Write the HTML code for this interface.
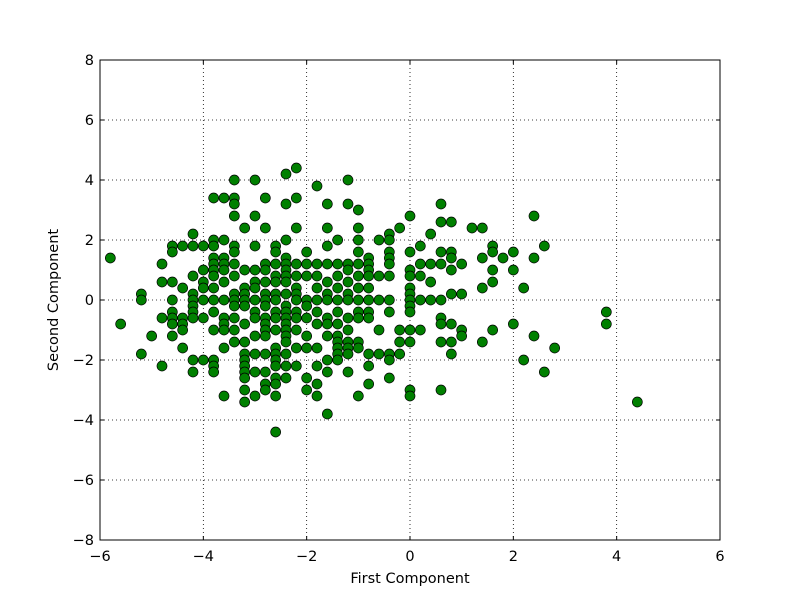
<!DOCTYPE html>
<html><head><meta charset="utf-8"><style>
html,body{margin:0;padding:0;background:#fff;}
svg text{font-family:"DejaVu Sans","Liberation Sans",sans-serif;}
</style></head><body>
<svg id="chart" width="800" height="600" xmlns="http://www.w3.org/2000/svg">
<rect width="800" height="600" fill="#fff"/>
<g id="grid"></g><g id="points"></g>
<rect x="100" y="60" width="620" height="480" fill="none" stroke="#000" stroke-width="1"/>
<g id="ticks"></g>
<text x="410" y="583" font-size="14.5" text-anchor="middle">First Component</text>
<text transform="translate(58,300) rotate(-90)" font-size="14.5" text-anchor="middle">Second Component</text>
</svg>
<script>
const xTicks=[-6,-4,-2,0,2,4,6];
const yTicks=[-8,-6,-4,-2,0,2,4,6,8];
const xs=[-5.8,-5.6,-5.2,-5.2,-5.2,-5.0,-4.8,-4.8,-4.8,-4.8,-4.6,-4.6,-4.6,-4.6,-4.6,-4.6,-4.6,-4.6,-4.4,-4.4,-4.4,-4.4,-4.4,-4.4,-4.2,-4.2,-4.2,-4.2,-4.2,-4.2,-4.2,-4.2,-4.2,-4.2,-4.0,-4.0,-4.0,-4.0,-4.0,-4.0,-4.0,-3.8,-3.8,-3.8,-3.8,-3.8,-3.8,-3.8,-3.8,-3.8,-3.8,-3.8,-3.8,-3.8,-3.8,-3.6,-3.6,-3.6,-3.6,-3.6,-3.6,-3.6,-3.6,-3.6,-3.6,-3.6,-3.6,-3.4,-3.4,-3.4,-3.4,-3.4,-3.4,-3.4,-3.4,-3.4,-3.4,-3.4,-3.4,-3.4,-3.4,-3.2,-3.2,-3.2,-3.2,-3.2,-3.2,-3.2,-3.2,-3.2,-3.2,-3.2,-3.2,-3.2,-3.2,-3.2,-3.0,-3.0,-3.0,-3.0,-3.0,-3.0,-3.0,-3.0,-3.0,-3.0,-3.0,-3.0,-3.0,-2.8,-2.8,-2.8,-2.8,-2.8,-2.8,-2.8,-2.8,-2.8,-2.8,-2.8,-2.8,-2.8,-2.8,-2.8,-2.8,-2.6,-2.6,-2.6,-2.6,-2.6,-2.6,-2.6,-2.6,-2.6,-2.6,-2.6,-2.6,-2.6,-2.6,-2.6,-2.6,-2.6,-2.6,-2.4,-2.4,-2.4,-2.4,-2.4,-2.4,-2.4,-2.4,-2.4,-2.4,-2.4,-2.4,-2.4,-2.4,-2.4,-2.4,-2.4,-2.4,-2.4,-2.2,-2.2,-2.2,-2.2,-2.2,-2.2,-2.2,-2.2,-2.2,-2.2,-2.2,-2.2,-2.2,-2.0,-2.0,-2.0,-2.0,-2.0,-2.0,-2.0,-2.0,-2.0,-2.0,-1.8,-1.8,-1.8,-1.8,-1.8,-1.8,-1.8,-1.8,-1.8,-1.8,-1.8,-1.6,-1.6,-1.6,-1.6,-1.6,-1.6,-1.6,-1.6,-1.6,-1.6,-1.6,-1.6,-1.6,-1.4,-1.4,-1.4,-1.4,-1.4,-1.4,-1.4,-1.4,-1.4,-1.4,-1.4,-1.4,-1.2,-1.2,-1.2,-1.2,-1.2,-1.2,-1.2,-1.2,-1.2,-1.2,-1.2,-1.2,-1.2,-1.0,-1.0,-1.0,-1.0,-1.0,-1.0,-1.0,-1.0,-1.0,-1.0,-1.0,-1.0,-1.0,-0.8,-0.8,-0.8,-0.8,-0.8,-0.8,-0.8,-0.8,-0.8,-0.8,-0.8,-0.6,-0.6,-0.6,-0.6,-0.6,-0.4,-0.4,-0.4,-0.4,-0.4,-0.4,-0.4,-0.4,-0.4,-0.4,-0.4,-0.2,-0.2,-0.2,-0.2,0,0,0,0,0,0,0,0,0,0,0,0,0,0.2,0.2,0.2,0.2,0.2,0.4,0.4,0.4,0.4,0.6,0.6,0.6,0.6,0.6,0.6,0.6,0.6,0.6,0.8,0.8,0.8,0.8,0.8,0.8,0.8,0.8,1.0,1.0,1.0,1.0,1.2,1.4,1.4,1.4,1.4,1.6,1.6,1.6,1.6,1.6,1.8,2.0,2.0,2.0,2.2,2.2,2.4,2.4,2.4,2.6,2.6,2.8,3.8,3.8,4.4];
const ys=[1.4,-0.8,0.2,0,-1.8,-1.2,1.2,0.6,-0.6,-2.2,1.8,1.6,0.6,0,-0.4,-0.6,-0.8,-1.2,1.8,0.4,-0.6,-0.8,-1.0,-1.6,2.2,1.8,0.8,0.2,0,-0.2,-0.4,-0.6,-2.0,-2.4,1.8,1.0,0.6,0.4,0,-0.6,-2.0,3.4,2.0,1.8,1.4,1.2,1.0,0.8,0.4,0,-0.4,-1.0,-2.0,-2.2,-2.4,3.4,2.0,1.4,1.2,1.0,0.6,0,-0.6,-0.8,-1.0,-1.6,-3.2,4.0,3.4,3.2,2.8,1.8,1.6,1.2,0.8,0.2,0,-0.2,-0.6,-1.0,-1.4,2.4,1.0,0.4,0.2,0,-0.2,-0.8,-1.4,-1.8,-2.0,-2.2,-2.4,-2.6,-3.0,-3.4,4.0,2.8,1.8,1.0,0.6,0.4,0,-0.4,-0.6,-1.2,-1.8,-2.4,-3.2,3.4,2.4,1.2,1.0,0.6,0.2,0,-0.2,-0.6,-0.8,-1.0,-1.2,-1.8,-2.4,-2.8,-3.0,1.8,1.6,1.2,0.8,0.6,0.2,0,-0.4,-0.6,-1.0,-1.6,-1.8,-2.0,-2.2,-2.6,-2.8,-3.2,-4.4,4.2,3.2,2.0,1.4,1.2,1.0,0.8,0.6,0.2,-0.2,-0.4,-0.6,-0.8,-1.0,-1.2,-1.4,-1.8,-2.2,-2.6,4.4,3.4,2.4,1.2,0.8,0.4,0.2,0,-0.4,-0.6,-1.0,-1.6,-2.2,1.6,1.2,0.8,0,-0.2,-0.6,-1.2,-1.6,-2.6,-3.0,3.8,1.2,0.8,0.4,0,-0.4,-0.8,-1.6,-2.2,-2.8,-3.2,3.2,2.4,1.8,1.2,0.6,0.2,0,-0.6,-0.8,-1.2,-2.0,-2.4,-3.8,2.0,1.2,0.8,0.4,0,-0.4,-0.8,-1.2,-1.4,-1.6,-1.8,-2.0,4.0,3.2,1.2,1.0,0.6,0.2,0,-0.6,-1.0,-1.4,-1.6,-1.8,-2.4,3.0,2.4,2.0,1.6,1.2,0.8,0.4,0,-0.4,-0.6,-1.4,-1.6,-3.2,1.4,1.2,1.0,0.8,0.4,0,-0.4,-0.6,-1.8,-2.2,-2.8,2.0,0.8,0,-1.0,-1.8,2.2,2.0,1.6,1.4,1.2,0.8,0,-0.4,-1.8,-2.0,-2.6,2.4,-1.0,-1.4,-1.8,2.8,1.6,1.0,0.8,0.4,0.2,0,-0.2,-0.4,-1.0,-1.4,-3.0,-3.2,1.8,1.2,0.8,0,-1.0,2.2,1.2,0.6,0,3.2,2.6,1.6,1.2,0,-0.6,-0.8,-1.4,-3.0,2.6,1.6,1.4,1.0,0.2,-0.8,-1.4,-1.8,1.2,0.2,-1.0,-1.2,2.4,2.4,1.4,0.4,-1.4,1.8,1.6,1.0,0.6,-1.0,1.4,1.6,1.0,-0.8,0.4,-2.0,2.8,1.4,-1.2,1.8,-2.4,-1.6,-0.4,-0.8,-3.4];
const NS='http://www.w3.org/2000/svg';
const X=v=>100+(v+6)/12*620, Y=v=>60+(8-v)/16*480;
function mk(t,a,p){const e=document.createElementNS(NS,t);for(const k in a)e.setAttribute(k,a[k]);p.appendChild(e);return e;}
const grid=document.getElementById('grid'),tk=document.getElementById('ticks'),pts=document.getElementById('points');
xTicks.forEach(v=>{
 const g=mk('line',{x1:X(v),x2:X(v),y1:60,y2:540,stroke:'#000','stroke-dasharray':'1,3','stroke-width':0.8},grid);
 
 
 mk('line',{x1:X(v),x2:X(v),y1:540,y2:536,stroke:'#000'},tk);
 mk('line',{x1:X(v),x2:X(v),y1:60,y2:64,stroke:'#000'},tk);
 const t=mk('text',{x:X(v),y:561,'font-size':14.5,'text-anchor':'middle'},tk);
 t.textContent=(v<0?'\u2212'+(-v):v);
 
 
});
yTicks.forEach(v=>{
 const g=mk('line',{x1:100,x2:720,y1:Y(v),y2:Y(v),stroke:'#000','stroke-dasharray':'1,3','stroke-width':0.8},grid);
 
 
 mk('line',{x1:100,x2:104,y1:Y(v),y2:Y(v),stroke:'#000'},tk);
 mk('line',{x1:716,x2:720,y1:Y(v),y2:Y(v),stroke:'#000'},tk);
 const t=mk('text',{x:94,y:Y(v)+5,'font-size':14.5,'text-anchor':'end'},tk);
 t.textContent=(v<0?'\u2212'+(-v):v);
 
 
});
xs.forEach((x,i)=>{
 const c=mk('circle',{cx:X(x),cy:Y(ys[i]),r:5,fill:'#008000',stroke:'#000','stroke-width':0.7},pts);
 
 
});
</script>
</body></html>
